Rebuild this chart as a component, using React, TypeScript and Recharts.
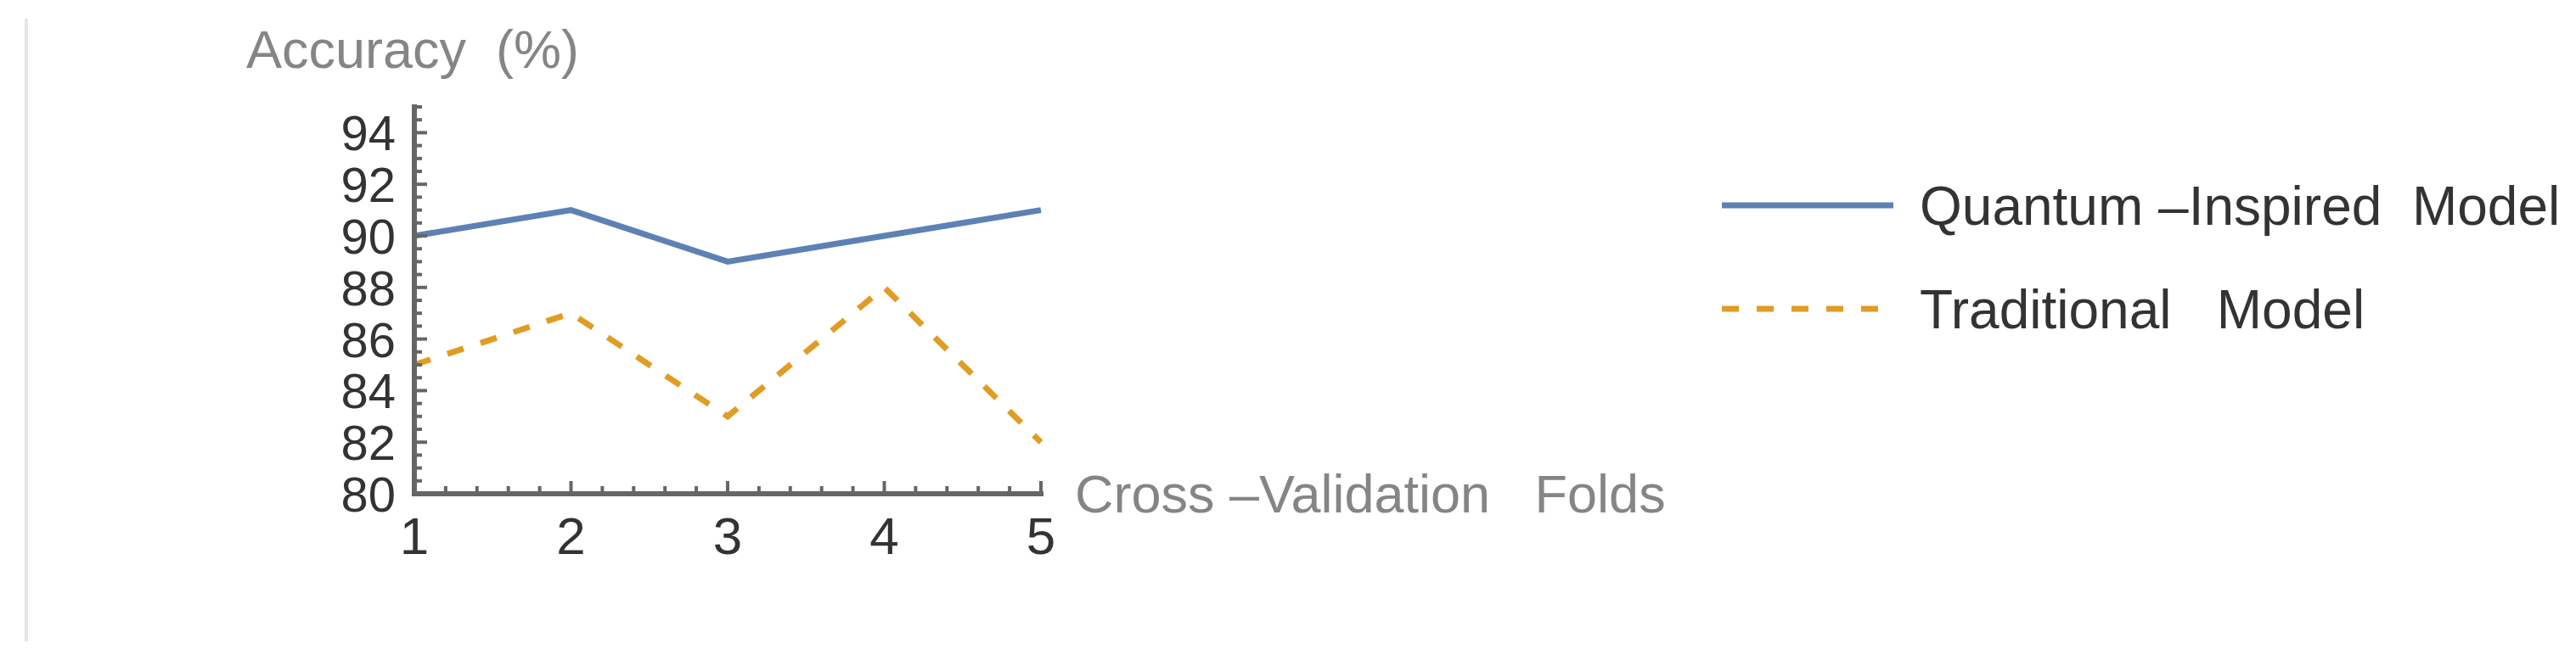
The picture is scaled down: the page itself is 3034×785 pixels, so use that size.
import React from 'react';
import { LineChart, Line, XAxis, YAxis, Legend } from 'recharts';

const folds = [1, 2, 3, 4, 5];
const quantumAcc = [90, 91, 89, 90, 91];
const traditionalAcc = [85, 87, 83, 88, 82];
const xTicks = [1, 1.2, 1.4, 1.6, 1.8, 2, 2.2, 2.4, 2.6, 2.8, 3, 3.2, 3.4, 3.6, 3.8, 4, 4.2, 4.4, 4.6, 4.8, 5];
const yTicks = [
  80, 80.5, 81, 81.5, 82, 82.5, 83, 83.5, 84, 84.5, 85, 85.5, 86, 86.5, 87, 87.5,
  88, 88.5, 89, 89.5, 90, 90.5, 91, 91.5, 92, 92.5, 93, 93.5, 94, 94.5, 95,
];
const yLabels = [80, 82, 84, 86, 88, 90, 92, 94];
const seriesNames = ['Quantum \u2013Inspired  Model', 'Traditional   Model'];
const xTitle = 'Cross \u2013Validation   Folds';
const yTitle = 'Accuracy  (%)';

const data = folds.map((f, i) => ({
  fold: f,
  quantum: quantumAcc[i],
  traditional: traditionalAcc[i],
}));

const FONT = "'Liberation Sans', Arial, sans-serif";
const AXIS = '#666666';
const TICK_TEXT = '#333333';
const TITLE_TEXT = '#858585';

// ticks point into the plot, like the original
const XTick = (props: any) => {
  const { x, y, payload } = props;
  const major = Number.isInteger(payload.value);
  return (
    <g>
      <line x1={x} x2={x} y1={y} y2={y - (major ? 15 : 9)} stroke={AXIS} strokeWidth={4} />
      {major && (
        <text x={x} y={y + 71} textAnchor="middle" fontSize={62} fontFamily={FONT} fill={TICK_TEXT}>
          {payload.value}
        </text>
      )}
    </g>
  );
};

const YTick = (props: any) => {
  const { x, y, payload } = props;
  const major = yLabels.includes(payload.value);
  return (
    <g>
      <line x1={x} x2={x + (major ? 15 : 9)} y1={y} y2={y} stroke={AXIS} strokeWidth={4} />
      {major && (
        <text x={x - 22} y={y + 21} textAnchor="end" fontSize={58} fontFamily={FONT} fill={TICK_TEXT}>
          {payload.value}
        </text>
      )}
    </g>
  );
};

const LegendBox = (props: any) => {
  const { payload } = props;
  return (
    <svg width={1006} height={220} style={{ display: 'block' }}>
      {(payload || []).map((entry: any, i: number) => {
        const cy = 42 + i * 122;
        return (
          <g key={entry.value}>
            <line
              x1={0}
              x2={202}
              y1={cy}
              y2={cy}
              stroke={entry.color}
              strokeWidth={7}
              strokeDasharray={entry.payload?.strokeDasharray}
            />
            <text
              x={233}
              y={cy + 23}
              fontSize={64}
              fontFamily={FONT}
              fill={TICK_TEXT}
              style={{ whiteSpace: 'pre' }}
            >
              {entry.value}
            </text>
          </g>
        );
      })}
    </svg>
  );
};

export default function App() {
  return (
    <div style={{ position: 'absolute', left: 0, top: 0, width: 3034, height: 785, background: '#fff' }}>
      <div
        style={{ position: 'absolute', left: 29, top: 22, width: 4, height: 734, background: '#e6e6e6' }}
      />
      <LineChart
        width={3034}
        height={785}
        data={data}
        margin={{ top: 126, right: 1808, bottom: 103, left: 0 }}
      >
        <XAxis
          dataKey="fold"
          type="number"
          domain={[1, 5]}
          ticks={xTicks}
          interval={0}
          height={100}
          tickSize={0}
          tickMargin={0}
          tickLine={false}
          axisLine={{ stroke: AXIS, strokeWidth: 6, strokeLinecap: 'square' }}
          tick={<XTick />}
          label={{
            content: (p: any) => (
              <text
                x={p.viewBox.x + p.viewBox.width + 40}
                y={p.viewBox.y + 22}
                fontSize={63}
                fontFamily={FONT}
                fill={TITLE_TEXT}
                style={{ whiteSpace: 'pre' }}
              >
                {xTitle}
              </text>
            ),
          }}
        />
        <YAxis
          type="number"
          domain={[80, 95]}
          ticks={yTicks}
          interval={0}
          width={488}
          tickSize={0}
          tickMargin={0}
          tickLine={false}
          axisLine={{ stroke: AXIS, strokeWidth: 6, strokeLinecap: 'square' }}
          tick={<YTick />}
          label={{
            content: (p: any) => (
              <text
                x={p.viewBox.x + p.viewBox.width - 198}
                y={p.viewBox.y - 46}
                fontSize={63}
                fontFamily={FONT}
                fill={TITLE_TEXT}
                style={{ whiteSpace: 'pre' }}
              >
                {yTitle}
              </text>
            ),
          }}
        />
        <Legend
          layout="horizontal"
          verticalAlign="middle"
          content={<LegendBox />}
          wrapperStyle={{ left: 2028, top: 200, width: 1006, height: 220 }}
        />
        <Line
          type="linear"
          dataKey="quantum"
          name={seriesNames[0]}
          stroke="#5E81B5"
          strokeWidth={7}
          dot={false}
          isAnimationActive={false}
        />
        <Line
          type="linear"
          dataKey="traditional"
          name={seriesNames[1]}
          stroke="#E19C24"
          strokeWidth={7}
          strokeDasharray="20 21"
          dot={false}
          isAnimationActive={false}
        />
      </LineChart>
    </div>
  );
}
